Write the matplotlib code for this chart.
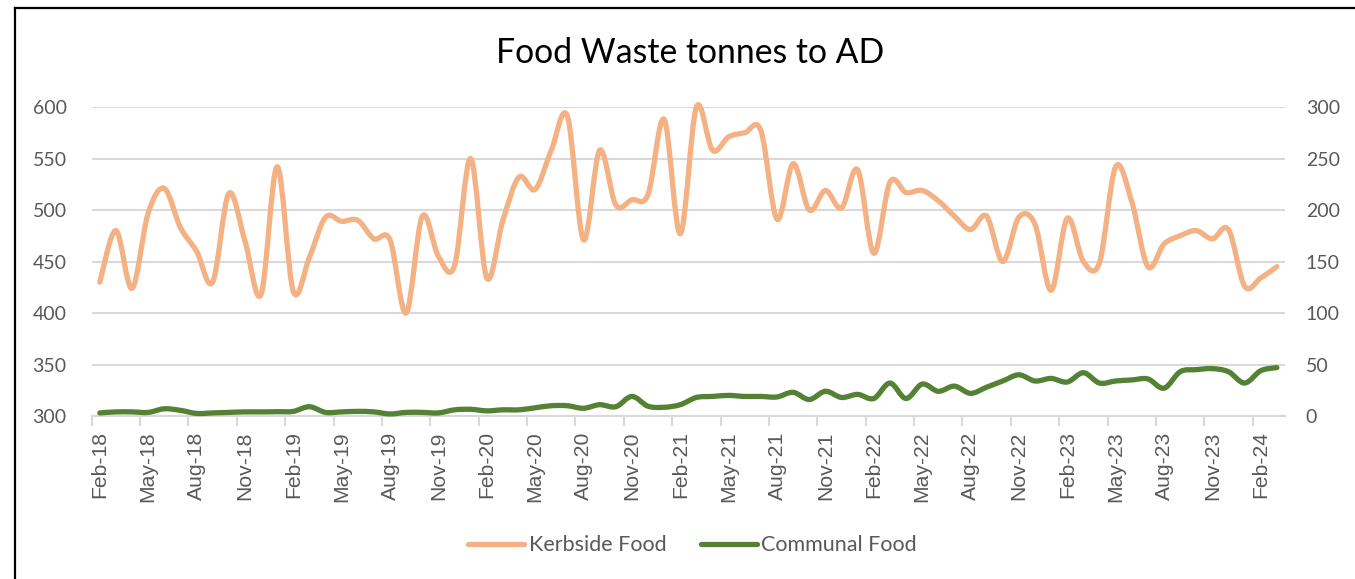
import numpy as np
import pandas as pd
import matplotlib.pyplot as plt
from matplotlib.path import Path
from matplotlib.patches import PathPatch
from matplotlib.lines import Line2D

# --------------------------------------------
# Monthly tonnes, Feb-18 .. Mar-24
# --------------------------------------------
kerbside = [430, 480, 424, 497, 521, 483, 460, 430, 516, 470,
            418, 542, 421, 454, 493, 489, 490, 472, 471, 400,
            494, 455, 446, 550, 434, 490, 532, 520, 558, 591,
            471, 558, 505, 510, 515, 588, 477, 600, 558, 571,
            575, 577, 491, 545, 500, 519, 502, 539, 458, 527,
            517, 519, 509, 494, 481, 494, 450, 493, 486, 422,
            492, 450, 449, 542, 508, 445, 467, 475, 480, 472,
            481, 426, 434, 445]

communal = [3, 4, 4, 3.5, 7, 5.5, 2.5, 3, 3.5, 4,
            4, 4.2, 4.5, 9, 3.5, 4, 4.5, 4, 2, 3.5,
            3.5, 3, 6, 6.5, 5, 6, 6, 8, 10, 10,
            7.5, 11, 9, 19, 9.5, 8.5, 11, 18, 19, 20,
            19, 19, 18.5, 23, 16, 24, 18, 21, 17, 32,
            17, 31, 24, 29, 22, 28, 34, 40, 34, 36.5,
            33, 42, 32, 34, 35, 36, 27, 43, 45, 46,
            43, 32, 44, 47]

months = pd.date_range('2018-02-01', periods=len(kerbside), freq='MS')
month_labels = [d.strftime('%b-%y') for d in months]

KERB_COL = '#F4B183'
COMM_COL = '#548235'
GRID_COL = '#D9D9D9'
TEXT_COL = '#595959'


# smoothed line like Excel (cubic bezier through every point)
def smooth_path(y):
    x = np.arange(len(y), dtype=float)
    y = np.asarray(y, dtype=float)
    verts = [(x[0], y[0])]
    codes = [Path.MOVETO]
    n = len(y)
    for i in range(n - 1):
        p0 = max(i - 1, 0)
        p3 = min(i + 2, n - 1)
        c1 = (x[i] + (x[i + 1] - x[p0]) / 6, y[i] + (y[i + 1] - y[p0]) / 6)
        c2 = (x[i + 1] - (x[p3] - x[i]) / 6, y[i + 1] - (y[p3] - y[i]) / 6)
        verts += [c1, c2, (x[i + 1], y[i + 1])]
        codes += [Path.CURVE4] * 3
    return Path(verts, codes)


fig = plt.figure(figsize=(13.55, 5.79), dpi=100)
ax = fig.add_axes([0.0677, 0.2815, 0.8806, 0.5337])
ax2 = ax.twinx()

ax.set_xlim(-0.5, len(kerbside) - 0.5)
ax.set_ylim(300, 600)
ax2.set_ylim(0, 300)
ax.set_yticks(np.arange(300, 601, 50))
ax2.set_yticks(np.arange(0, 301, 50))

ax.grid(axis='y', color=GRID_COL, linewidth=1.5)
ax.set_axisbelow(True)
for a in (ax, ax2):
    for s in a.spines.values():
        s.set_visible(False)
ax.spines['bottom'].set_visible(True)
ax.spines['bottom'].set_color(GRID_COL)
ax.spines['bottom'].set_linewidth(1.5)

kp = PathPatch(smooth_path(kerbside), fill=False, edgecolor=KERB_COL,
               linewidth=3.8, capstyle='round', joinstyle='round',
               transform=ax.transData, clip_on=False)
ax.add_patch(kp)
cp = PathPatch(smooth_path(communal), fill=False, edgecolor=COMM_COL,
               linewidth=3.8, capstyle='round', joinstyle='round',
               transform=ax2.transData, clip_on=False)
ax2.add_patch(cp)

# x axis: labels every 3rd month, tick marks between categories
lab_pos = np.arange(0, len(kerbside), 3)
ax.set_xticks(lab_pos)
ax.set_xticklabels([month_labels[i] for i in lab_pos], rotation=90,
                   fontfamily='Liberation Sans', fontsize=15.2, color=TEXT_COL)
ax.set_xticks(lab_pos - 0.5, minor=True)
ax.tick_params(axis='x', which='major', length=0, pad=11)
ax.tick_params(axis='x', which='minor', length=7, width=1.5, color=GRID_COL)

ax.tick_params(axis='y', length=0, pad=18, labelsize=14, labelcolor=TEXT_COL)
ax2.tick_params(axis='y', length=0, pad=15, labelsize=14, labelcolor=TEXT_COL)
for lab in ax.get_yticklabels() + ax2.get_yticklabels():
    lab.set_fontfamily('Lato')

fig.text(0.509, 0.908, 'Food Waste tonnes to AD', ha='center', va='center',
         fontsize=24.3, fontfamily='Lato', color='black')

handles = [Line2D([], [], color=KERB_COL, linewidth=3.8, solid_capstyle='round'),
           Line2D([], [], color=COMM_COL, linewidth=3.8, solid_capstyle='round')]
leg = fig.legend(handles, ['Kerbside Food', 'Communal Food'], loc='center',
                 bbox_to_anchor=(0.511, 0.058), ncol=2, frameon=False,
                 prop={'family': 'Lato', 'size': 15.5}, handlelength=2.6,
                 handletextpad=0.2, columnspacing=1.6)
for t in leg.get_texts():
    t.set_color(TEXT_COL)

# chart border (top and left edges visible)
fig.add_artist(Line2D([0.011, 1.0], [0.987, 0.987], color='black', linewidth=1.6,
                      transform=fig.transFigure))
fig.add_artist(Line2D([0.011, 0.011], [0.0, 0.987], color='black', linewidth=1.6,
                      transform=fig.transFigure))

fig.savefig('out.png', dpi=100)
